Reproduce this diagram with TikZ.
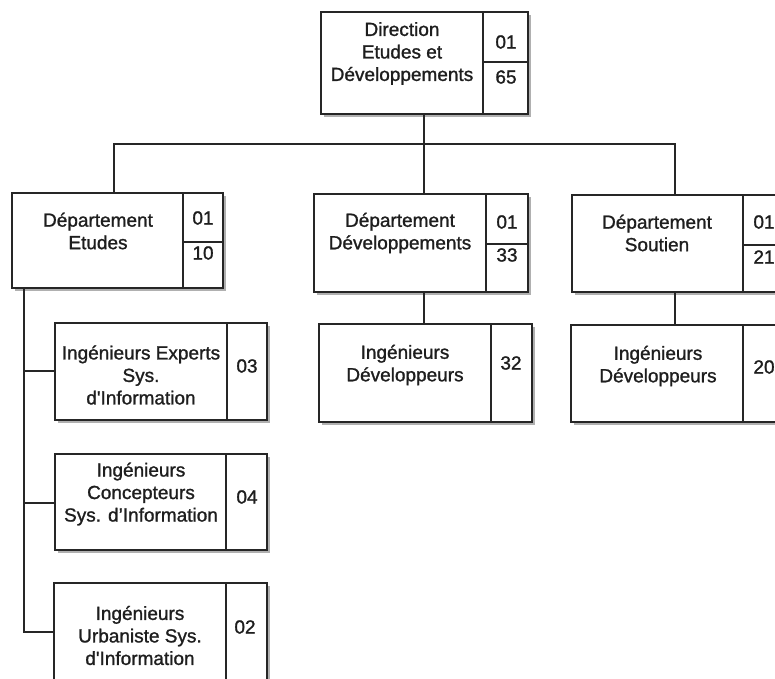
\documentclass[tikz,border=0pt]{standalone}
\usepackage{fontspec}
\newfontfamily\orgfont{Liberation Sans}[FakeBold=1.2]
\usetikzlibrary{shadows,calc}
\definecolor{ink}{HTML}{1E1E1E}
\definecolor{rule}{HTML}{262626}
\definecolor{shade}{HTML}{B0B0B0}
\tikzset{
  unitbox/.style={draw=rule, line width=1.6pt, fill=white, inner sep=0pt,
    drop shadow={shadow xshift=3pt, shadow yshift=-3pt, fill=shade, opacity=1}},
  label/.style={font=\orgfont\fontsize{19}{22.5}\selectfont, text=ink, align=center, inner sep=0pt},
  divider/.style={draw=rule, line width=1.6pt},
  link/.style={draw=rule, line width=1.6pt}
}
% \orgunit{name}{x1}{y1}{x2}{y2}: a framed unit box from its corners (y grows downward)
\newcommand{\orgunit}[5]{%
  \node[unitbox, minimum width={(#4-#2)*1pt}, minimum height={(#5-#3)*1pt}]
    (#1) at ({(#2+#4)/2},{(#3+#5)/2}) {};}
\begin{document}
\begin{tikzpicture}[x=1pt, y=-1pt]
\useasboundingbox (0,0) rectangle (775,678);
\clip (0,0) rectangle (775,678);

% bus and trunk points
\coordinate (bus) at (424,144);
\coordinate (busL) at (114,144);
\coordinate (busR) at (675,144);
\coordinate (trunk) at (24,632);

% boxes
\orgunit{dir}{321}{12}{528}{114}
\orgunit{etu}{12}{193}{223}{288}
\orgunit{dev}{314}{194}{528}{292}
\orgunit{sou}{572}{195}{785}{292}
\orgunit{ingdev}{319}{324}{532}{422}
\orgunit{ingsou}{571}{325}{785}{422}
\orgunit{exp}{55}{323}{267}{420}
\orgunit{con}{55}{454}{267}{550}
\orgunit{urb}{54}{583}{267}{700}

% connectors
\draw[link] (dir.south -| bus) -- (bus);
\draw[link] (etu.north -| busL) -- (busL) -- (busR) -- (sou.north -| busR);
\draw[link] (bus) -- (dev.north -| bus);
\draw[link] (dev.south -| 424,0) -- (ingdev.north -| 424,0);
\draw[link] (sou.south -| busR) -- (ingsou.north -| busR);
\draw[link] (etu.south -| trunk) -- (trunk) -- (urb.west |- trunk);
\draw[link] (24,371) -- (exp.west |- 0,371);
\draw[link] (24,503) -- (con.west |- 0,503);

% cell dividers
\draw[divider] (dir.north -| 483,0) -- (dir.south -| 483,0);
\draw[divider] (483,62) -- (dir.east |- 0,62);
\draw[divider] (etu.north -| 183,0) -- (etu.south -| 183,0);
\draw[divider] (183,242) -- (etu.east |- 0,242);
\draw[divider] (dev.north -| 486,0) -- (dev.south -| 486,0);
\draw[divider] (486,244) -- (dev.east |- 0,244);
\draw[divider] (sou.north -| 743,0) -- (sou.south -| 743,0);
\draw[divider] (743,245) -- (sou.east |- 0,245);
\draw[divider] (ingdev.north -| 491,0) -- (ingdev.south -| 491,0);
\draw[divider] (ingsou.north -| 743,0) -- (ingsou.south -| 743,0);
\draw[divider] (exp.north -| 227,0) -- (exp.south -| 227,0);
\draw[divider] (con.north -| 226,0) -- (con.south -| 226,0);
\draw[divider] (urb.north -| 226,0) -- (urb.south -| 226,0);

% names
\node[label] (dir-t) at (402,53.5) {Direction\\Etudes et\\Développements};
\node[label] (etu-t) at (98,231) {Département\\Etudes};
\node[label] (dev-t) at (400,233) {Département\\Développements};
\node[label] (sou-t) at (657,233) {Département\\Soutien};
\node[label] (ingdev-t) at (405,365) {Ingénieurs\\Développeurs};
\node[label] (ingsou-t) at (658,366) {Ingénieurs\\Développeurs};
\node[label] (exp-t) at (141,375) {Ingénieurs Experts\\Sys.\\d'Information};
\node[label] (con-t) at (141,494) {Ingénieurs\\Concepteurs\\Sys. d’Information};
\node[label] (urb-t) at (140,635.5) {Ingénieurs\\Urbaniste Sys.\\d'Information};

% head counts
\node[label] (dir-a) at (506,42) {01};
\node[label] (dir-b) at (506,77) {65};
\node[label] (etu-a) at (203,218) {01};
\node[label] (etu-b) at (203,253) {10};
\node[label] (dev-a) at (507,222) {01};
\node[label] (dev-b) at (507,255) {33};
\node[label] (sou-a) at (764,222) {01};
\node[label] (sou-b) at (764,257) {21};
\node[label] (ingdev-n) at (511,363) {32};
\node[label] (ingsou-n) at (764,367) {20};
\node[label] (exp-n) at (247,366) {03};
\node[label] (con-n) at (247,497) {04};
\node[label] (urb-n) at (245,627) {02};
\end{tikzpicture}
\end{document}
